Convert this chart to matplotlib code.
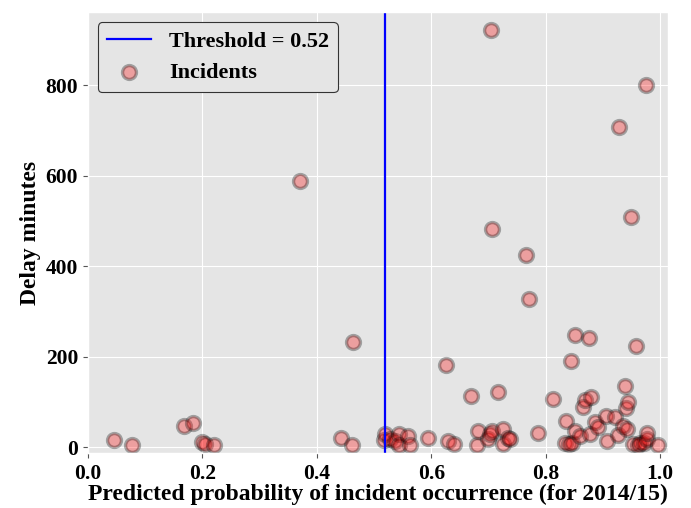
import matplotlib
matplotlib.use("Agg")
import matplotlib.pyplot as plt


THRESHOLD = 0.52

PROB = [
    0.046, 0.078, 0.168, 0.184, 0.199, 0.205, 0.221, 0.371, 0.442, 0.461,
    0.463, 0.518, 0.519, 0.528, 0.537, 0.543, 0.543, 0.560, 0.563, 0.594,
    0.625, 0.630, 0.639, 0.669, 0.680, 0.682, 0.700, 0.702, 0.705, 0.706,
    0.706, 0.717, 0.725, 0.726, 0.735, 0.738, 0.766, 0.771, 0.786, 0.812,
    0.834, 0.836, 0.840, 0.844, 0.846, 0.851, 0.852, 0.860, 0.866, 0.869,
    0.875, 0.878, 0.880, 0.886, 0.892, 0.905, 0.907, 0.921, 0.927, 0.928,
    0.935, 0.939, 0.941, 0.942, 0.943, 0.949, 0.953, 0.958, 0.962, 0.965,
    0.971, 0.975, 0.977, 0.977, 0.997,
]

DELAY = [
    16, 4, 47, 53, 12, 7, 6, 589, 21, 6,
    233, 16, 29, 18, 14, 29, 4, 25, 4, 20,
    182, 14, 7, 114, 4, 36, 18, 29, 921, 36,
    483, 123, 7, 40, 21, 18, 424, 328, 31, 106,
    10, 58, 7, 191, 10, 36, 249, 25, 90, 105,
    241, 29, 111, 55, 44, 68, 14, 66, 27, 708,
    47, 136, 86, 40, 99, 509, 7, 223, 4, 10,
    10, 801, 18, 31, 5,
]

X_TICKS = [0.0, 0.2, 0.4, 0.6, 0.8, 1.0]
Y_TICKS = [0, 200, 400, 600, 800]


def main():
    plt.style.use("ggplot")
    plt.rcParams["font.family"] = ["Liberation Serif", "DejaVu Serif"]
    plt.rcParams["font.weight"] = "bold"

    fig = plt.figure(figsize=(6.91, 5.08), dpi=100)
    ax = fig.add_axes([0.127, 0.108, 0.840, 0.868])

    ax.axvline(THRESHOLD, color="blue", linewidth=1.6,
               label=f"Threshold = {THRESHOLD}")
    ax.scatter(PROB, DELAY, s=100, color="red", alpha=0.3,
               edgecolor="black", linewidth=2.4, label="Incidents")

    ax.set_xlim(0, 1.014)
    ax.set_ylim(-13, 961)
    ax.set_xticks(X_TICKS)
    ax.set_yticks(Y_TICKS)
    ax.tick_params(labelsize=15.5, labelcolor="black")
    ax.tick_params(axis="x", pad=4.5)
    for lbl in ax.get_xticklabels() + ax.get_yticklabels():
        lbl.set_fontweight("bold")

    ax.set_xlabel("Predicted probability of incident occurrence (for 2014/15)",
                  fontsize=17, fontweight="bold", color="black", labelpad=0)
    ax.set_ylabel("Delay minutes", fontsize=17, fontweight="bold",
                  color="black", labelpad=3)

    leg = ax.legend(loc="upper left", frameon=True, borderaxespad=0.45,
                    facecolor="#E5E5E5", edgecolor="#333333", framealpha=1,
                    prop={"weight": "bold", "size": 16})
    leg.get_frame().set_linewidth(0.8)

    fig.savefig("out.png", dpi=100)
    plt.close(fig)


if __name__ == "__main__":
    main()
